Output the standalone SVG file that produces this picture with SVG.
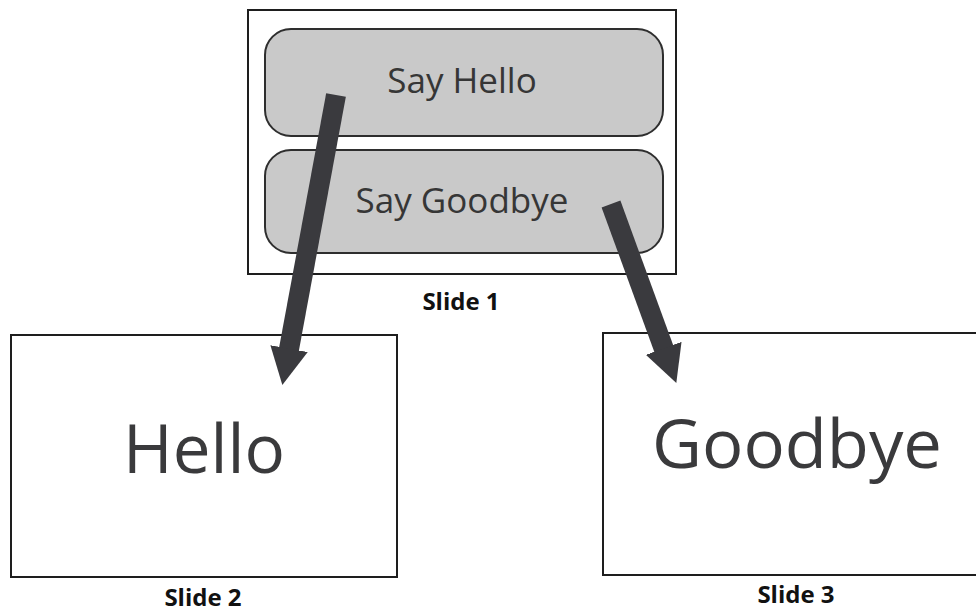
<svg xmlns="http://www.w3.org/2000/svg" width="976" height="614" viewBox="0 0 976 614">
  <style>
    .slide { fill: #ffffff; stroke: #1e1e1e; stroke-width: 2; }
    .button { fill: #c9c9c9; stroke: #2e2e2e; stroke-width: 2; }
    .btn-text { font-family: "Open Sans", "Noto Sans", sans-serif; font-size: 35px; fill: #363636; text-anchor: middle; }
    .big-text { font-family: "Open Sans", "Noto Sans", sans-serif; font-size: 68px; fill: #3a3a3c; text-anchor: middle; }
    .caption { font-family: "Open Sans", "Noto Sans", sans-serif; font-size: 24px; font-weight: bold; fill: #111111; text-anchor: middle; }
    .link { stroke: #3a3a3e; stroke-width: 20; fill: none; marker-end: url(#head); }
  </style>
  <defs>
    <marker id="head" markerUnits="userSpaceOnUse" viewBox="0 -20 40 40" markerWidth="40" markerHeight="40" refX="1" refY="0" orient="auto">
      <path d="M0,-19 L37,0 L0,19 Z" fill="#3a3a3e"/>
    </marker>
  </defs>

  <rect width="976" height="614" fill="#ffffff"/>

  <!-- Slide 1: menu with two buttons -->
  <g id="slide1">
    <rect class="slide" x="248" y="10" width="428" height="264"/>
    <text class="caption" x="461" y="310">Slide 1</text>
  </g>
  <g id="btn-hello">
    <rect class="button" x="265" y="29" width="398" height="107" rx="26" ry="26"/>
    <text class="btn-text" x="462" y="93">Say Hello</text>
  </g>
  <g id="btn-goodbye">
    <rect class="button" x="265" y="150" width="398" height="103" rx="26" ry="26"/>
    <text class="btn-text" x="462" y="213">Say Goodbye</text>
  </g>

  <!-- Slide 2 -->
  <g id="slide2">
    <rect class="slide" x="11" y="335" width="386" height="242"/>
    <text class="big-text" x="204" y="473" textLength="162" lengthAdjust="spacingAndGlyphs">Hello</text>
    <text class="caption" x="203" y="606">Slide 2</text>
  </g>

  <!-- Slide 3 -->
  <g id="slide3">
    <rect class="slide" x="603" y="333" width="380" height="242"/>
    <text class="big-text" x="797" y="468" textLength="290" lengthAdjust="spacingAndGlyphs">Goodbye</text>
    <text class="caption" x="796" y="603">Slide 3</text>
  </g>

  <!-- Hyperlink arrows -->
  <g id="connectors">
    <line class="link" x1="336" y1="95" x2="288.9" y2="349.6"/>
    <line class="link" x1="611" y1="204" x2="664" y2="349.3"/>
  </g>
</svg>
